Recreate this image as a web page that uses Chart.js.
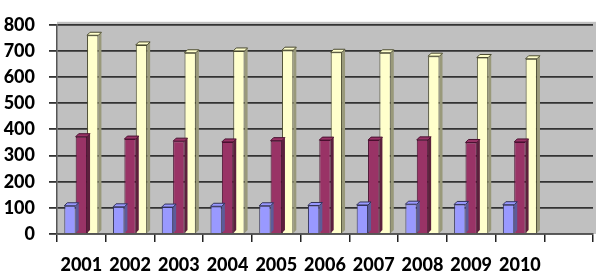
<!DOCTYPE html>
<html>
<head>
<meta charset="utf-8">
<script src="https://cdn.jsdelivr.net/npm/chart.js@4"></script>
<style>
  html, body { margin: 0; padding: 0; background: #fff; }
  #wrap { width: 603px; height: 271px; }
</style>
</head>
<body>
<div id="wrap"><canvas id="myChart" width="603" height="271"></canvas></div>
<script>
// years on the x axis, the last slot is empty in the original
let years = ['2001', '2002', '2003', '2004', '2005', '2006', '2007', '2008', '2009', '2010', ''];
let seriesBlue = [108, 104, 103, 106, 108, 109, 111, 114, 113, 112, null];
let seriesRed = [372, 363, 355, 352, 357, 359, 359, 360, 350, 352, null];
let seriesYellow = [760, 723, 693, 700, 703, 695, 693, 680, 675, 670, null];
let yTicks = [0, 100, 200, 300, 400, 500, 600, 700, 800];

const greyWall = {
    id: 'greyWall',
    beforeDraw(chart) {
        const { ctx, chartArea } = chart;
        ctx.save();
        ctx.fillStyle = '#c0c0c0';
        ctx.fillRect(chartArea.left, chartArea.top - 3, chartArea.right - chartArea.left + 3, chartArea.bottom - chartArea.top + 3);
        ctx.restore();
    }
};

// fake depth: dark side + top face for every bar (excel 3d look)
const sideFaces = ['#5c5c99', '#5c1f3d', '#99997a'];
const depth = {
    id: 'depth',
    afterDatasetsDraw(chart) {
        const ctx = chart.ctx;
        const d = 3;
        ctx.save();
        chart.data.datasets.forEach((ds, i) => {
            chart.getDatasetMeta(i).data.forEach((bar, j) => {
                if (ds.data[j] == null) return;
                const right = bar.x + bar.width / 2;
                const left = bar.x - bar.width / 2;
                ctx.fillStyle = sideFaces[i];
                ctx.beginPath();
                ctx.moveTo(right, bar.y);
                ctx.lineTo(right + d, bar.y - d);
                ctx.lineTo(right + d, bar.base - d);
                ctx.lineTo(right, bar.base);
                ctx.closePath();
                ctx.fill();
                ctx.fillStyle = ds.backgroundColor;
                ctx.strokeStyle = ds.borderColor;
                ctx.lineWidth = 1;
                ctx.beginPath();
                ctx.moveTo(left, bar.y);
                ctx.lineTo(left + d, bar.y - d);
                ctx.lineTo(right + d, bar.y - d);
                ctx.lineTo(right, bar.y);
                ctx.closePath();
                ctx.fill();
                ctx.stroke();
            });
        });
        ctx.restore();
    }
};

const data = {
    labels: years,
    datasets: [{
        label: 's1',
        backgroundColor: '#9999ff',
        borderColor: '#33335a',
        borderWidth: 1,
        data: seriesBlue,
    }, {
        label: 's2',
        backgroundColor: '#993366',
        borderColor: '#4a1030',
        borderWidth: 1,
        data: seriesRed,
    }, {
        label: 's3',
        backgroundColor: '#ffffcc',
        borderColor: '#4a4a30',
        borderWidth: 1,
        data: seriesYellow,
    }]
};

const config = {
    type: 'bar',
    data: data,
    plugins: [greyWall, depth],
    options: {
        responsive: false,
        animation: false,
        layout: { padding: { top: 8, right: 10, left: 0, bottom: 0 } },
        plugins: { legend: { display: false }, tooltip: { enabled: false } },
        datasets: { bar: { categoryPercentage: 0.7, barPercentage: 1.0 } },
        scales: {
            x: {
                offset: true,
                grid: { display: true, drawOnChartArea: false, offset: true, color: '#222', tickLength: 8, lineWidth: 1.5 },
                border: { display: true, color: '#555', width: 1.5 },
                ticks: {
                    color: '#000', padding: 12, autoSkip: false, maxRotation: 0, minRotation: 0,
                    font: { family: 'Lato', weight: '900', size: 18 }
                },
                afterFit(scale) { scale.height = 37; }
            },
            y: {
                min: 0,
                max: 800,
                afterBuildTicks(scale) { scale.ticks = yTicks.map(v => ({ value: v })); },
                grid: { color: '#333', lineWidth: 1.8, tickLength: 8 },
                border: { display: true, color: '#555', width: 1.5 },
                ticks: { color: '#000', padding: 14, font: { family: 'Lato', weight: '900', size: 18 } },
                afterFit(scale) { scale.width = 57; }
            }
        }
    }
};

const myChart = new Chart(document.getElementById('myChart'), config);
</script>
</body>
</html>
